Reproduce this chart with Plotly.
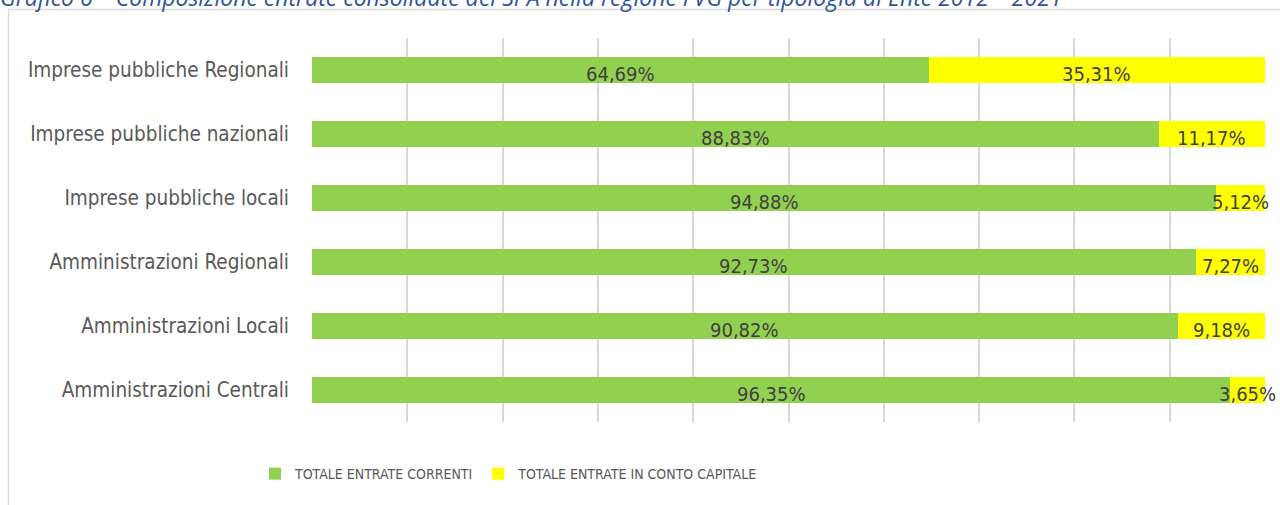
import plotly.graph_objects as go

categories = [
    "Amministrazioni Centrali",
    "Amministrazioni Locali",
    "Amministrazioni Regionali",
    "Imprese pubbliche locali",
    "Imprese pubbliche nazionali",
    "Imprese pubbliche Regionali",
]
entrate_correnti = [96.35, 90.82, 92.73, 94.88, 88.83, 64.69]
entrate_capitale = [3.65, 9.18, 7.27, 5.12, 11.17, 35.31]
series_names = ["TOTALE ENTRATE CORRENTI", "TOTALE ENTRATE IN CONTO CAPITALE"]
title_text = "Grafico 6 – Composizione entrate consolidate del SPA nella regione FVG per tipologia di Ente 2012 – 2021"

GREEN = "#92D050"
YELLOW = "#FFFF00"
LABEL_FONT = "DejaVu Sans Condensed, sans-serif"
TICK_FONT = "DejaVu Sans Condensed, sans-serif"
LEGEND_FONT = "DejaVu Sans Condensed, sans-serif"


def fmt(v):
    return f"{v:.2f}".replace(".", ",") + "%"


fig = go.Figure()
fig.add_trace(go.Bar(
    y=categories, x=entrate_correnti, orientation="h", name=series_names[0],
    marker=dict(color=GREEN, line=dict(width=0)), hoverinfo="skip",
))
fig.add_trace(go.Bar(
    y=categories, x=entrate_capitale, orientation="h", name=series_names[1],
    marker=dict(color=YELLOW, line=dict(width=0)), hoverinfo="skip",
))

# data labels at segment centres (data coordinates)
label_annotations = []
for cat, g, c in zip(categories, entrate_correnti, entrate_capitale):
    for xc, v in ((g / 2, g), (g + c / 2, c)):
        label_annotations.append(dict(
            x=xc, y=cat, xref="x", yref="y", text=fmt(v), showarrow=False,
            xanchor="center", yanchor="middle", yshift=-4,
            font=dict(family=LABEL_FONT, size=20, color="#404040"),
        ))

L, R, T, B = 312, 15, 38, 83
W, H = 1280, 505
pw, ph = W - L - R, H - T - B


def px_to_paper_x(px):
    return (px - L) / pw


def px_to_paper_y(py):
    return (H - B - py) / ph


fig.update_layout(
    width=W, height=H,
    margin=dict(l=L, r=R, t=T, b=B, autoexpand=False),
    paper_bgcolor="white", plot_bgcolor="white",
    barmode="stack", bargap=0.59,
    showlegend=True,
    legend=dict(
        orientation="h", x=px_to_paper_x(255), xanchor="left",
        y=px_to_paper_y(474), yanchor="middle",
        font=dict(family=LEGEND_FONT, size=14, color="#595959"),
        itemwidth=30, traceorder="normal",
    ),
    xaxis=dict(
        range=[0, 100], dtick=10, showgrid=True, gridcolor="#D9D9D9", gridwidth=1.5,
        showticklabels=False, zeroline=False, showline=False, fixedrange=True,
    ),
    yaxis=dict(
        categoryorder="array", categoryarray=categories, showgrid=False,
        tickfont=dict(family=TICK_FONT, size=20.5, color="#595959"),
        ticks="", ticklabelstandoff=22, showline=False, fixedrange=True,
    ),
    shapes=[
        dict(type="line", xref="paper", yref="paper",
             x0=px_to_paper_x(8), x1=px_to_paper_x(1300),
             y0=px_to_paper_y(9.5), y1=px_to_paper_y(9.5),
             line=dict(color="#D9D9D9", width=1.5)),
        dict(type="line", xref="paper", yref="paper",
             x0=px_to_paper_x(8.5), x1=px_to_paper_x(8.5),
             y0=px_to_paper_y(9.5), y1=px_to_paper_y(520),
             line=dict(color="#D9D9D9", width=1.5)),
    ],
    annotations=[
        dict(text=title_text, xref="paper", yref="paper",
             x=px_to_paper_x(-2), xanchor="left",
             y=px_to_paper_y(-3), yanchor="middle", showarrow=False,
             font=dict(family="Open Sans, sans-serif", size=23, color="#2F5597", style="italic")),
    ] + label_annotations,
)

fig.write_html(
    "out.html",
    config={"displayModeBar": False},
    post_script="document.body.style.margin='0';document.body.style.padding='0';",
)
